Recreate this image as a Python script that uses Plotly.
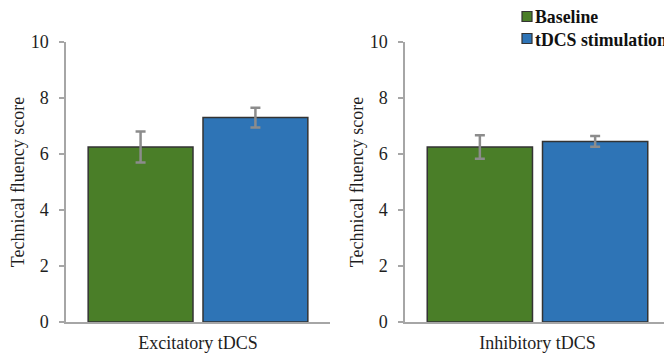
import plotly.graph_objects as go

conditions = ["Excitatory tDCS", "Inhibitory tDCS"]
series_names = ["Baseline", "tDCS stimulation"]
baseline_vals = [6.25, 6.25]
baseline_err = [0.55, 0.42]
stim_vals = [7.30, 6.45]
stim_err = [0.35, 0.19]
y_ticks = [0, 2, 4, 6, 8, 10]
y_title = "Technical fluency score"

colors = ["#4a7e28", "#2e74b6"]
FONT = "Liberation Serif, Times New Roman, serif"
OFF = 8  # page body margin offset
W, H = 672 - OFF, 356 - OFF


def px(x):
    return (x - OFF) / W


def py(y):
    return 1 - (y - OFF) / H


fig = go.Figure()
axes = [("x", "y"), ("x2", "y2")]
for i, (xa, ya) in enumerate(axes):
    for s, (name, vals, errs) in enumerate([
        (series_names[0], baseline_vals, baseline_err),
        (series_names[1], stim_vals, stim_err),
    ]):
        fig.add_trace(go.Bar(
            x=[conditions[i]], y=[vals[i]], name=name,
            xaxis=xa, yaxis=ya,
            marker=dict(color=colors[s], line=dict(color="#333333", width=1.5)),
            error_y=dict(type="data", array=[errs[i]], color="#8c8c8c", thickness=2.5, width=5),
            showlegend=False,
        ))

# legend drawn as shapes + annotations
for s, name in enumerate(series_names):
    yc = 16.5 + s * 22
    fig.add_shape(type="rect", xref="paper", yref="paper",
                  x0=px(522), x1=px(532), y0=py(yc - 5), y1=py(yc + 5),
                  fillcolor=colors[s], line=dict(color="#333333", width=1.2))
    fig.add_annotation(xref="paper", yref="paper", x=px(533), y=py(yc + 1),
                       xanchor="left", yanchor="middle", showarrow=False, text=f"<b>{name}</b>",
                       font=dict(family=FONT, size=17.8, color="#111111"))

ydom = [py(322), py(42)]
axis_common = dict(showgrid=False, zeroline=False, showline=True, linecolor="#a6a6a6",
                   linewidth=1.5, automargin=False)
yax = dict(range=[0, 10], tickvals=y_ticks, ticks="outside", ticklen=5,
           tickcolor="#a6a6a6", tickwidth=1.5, tickfont=dict(size=18), ticklabelstandoff=7,
           title=dict(text=y_title, font=dict(size=18), standoff=1), **axis_common)
xax = dict(ticks="", tickfont=dict(size=18), ticklabelstandoff=4, **axis_common)
fig.update_layout(
    width=W, height=H,
    margin=dict(l=0, r=0, t=0, b=0),
    paper_bgcolor="white", plot_bgcolor="white",
    font=dict(family=FONT, size=18, color="#1e1e1e"),
    showlegend=False,
    barmode="group", bargap=0.13, bargroupgap=0.087,
    xaxis=dict(domain=[px(66), px(330)], anchor="y", **xax),
    xaxis2=dict(domain=[px(405), px(670)], anchor="y2", **xax),
    yaxis=dict(domain=ydom, anchor="x", **yax),
    yaxis2=dict(domain=ydom, anchor="x2", **yax),
)

fig.write_html("out.html")
